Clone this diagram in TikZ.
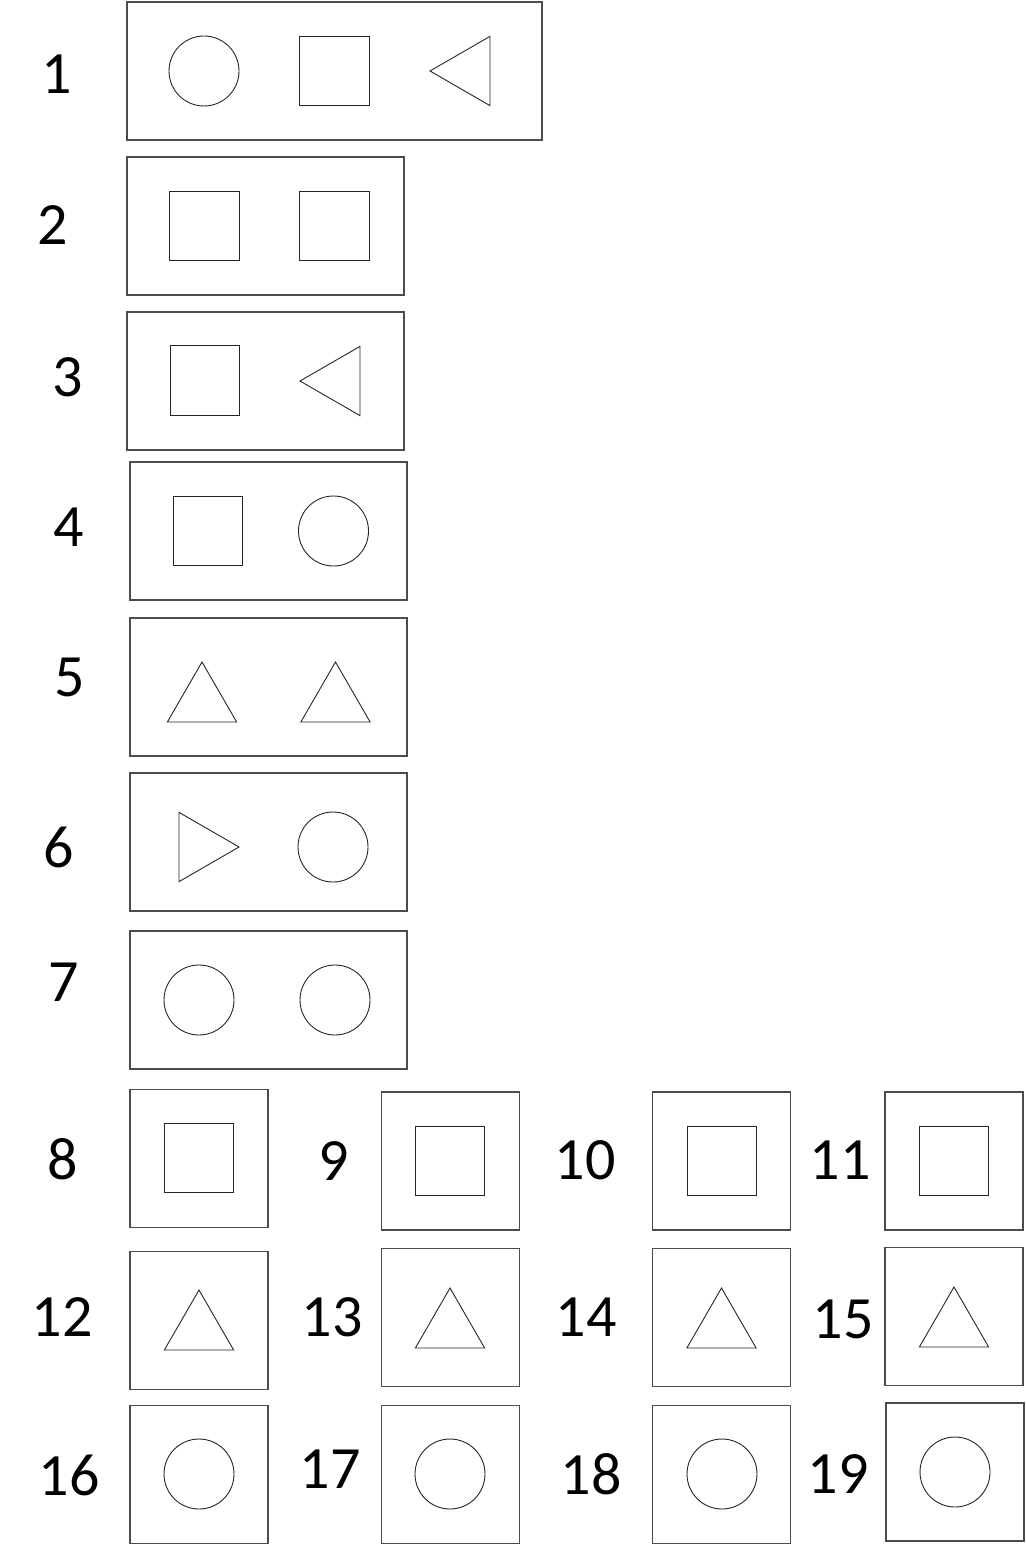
\documentclass[tikz,border=0pt]{standalone}
\usepackage{fontspec}
\setmainfont{Carlito}
\usetikzlibrary{shapes.geometric}

\begin{document}
\begin{tikzpicture}[x=0.5pt,y=-0.5pt,
		frame/.style = { draw, black!70, line width=0.6pt, minimum width=138.5pt, minimum height=69pt, inner sep=0pt },
		cell/.style = { draw, black!70, line width=0.6pt, minimum size=69pt, inner sep=0pt },
		circ/.style = { circle, draw, black!85, line width=0.45pt, minimum size=35pt, inner sep=0pt },
		sq/.style = { rectangle, draw, black!85, line width=0.45pt, minimum size=34.75pt, inner sep=0pt },
		tri/.style = { regular polygon, regular polygon sides=3, draw, black!85, line width=0.45pt, minimum size=40pt, inner sep=0pt },
		num/.style = { font = \fontsize{30}{36}\selectfont, inner sep=0pt },
		]
		\useasboundingbox (0,0) rectangle (1026,1546);
		
		% wide rows
		\node[frame, minimum width=207.5pt] (box1) at (334.5,71) {};
		\node[frame] (box2) at (265.5,226) {};
		\node[frame] (box3) at (265.5,381) {};
		\node[frame] (box4) at (268.5,531) {};
		\node[frame] (box5) at (268.5,687) {};
		\node[frame] (box6) at (268.5,842) {};
		\node[frame] (box7) at (268.5,1000) {};
		
		\node[num] (num1) at (57,74) {1};
		\node[num] (num2) at (53,225) {2};
		\node[num] (num3) at (68,377) {3};
		\node[num] (num4) at (69,527) {4};
		\node[num] (num5) at (70,677) {5};
		\node[num] (num6) at (59,847) {6};
		\node[num] (num7) at (64,982) {7};
		
		\node[circ] (C1a) at (204,71) {};
		\node[sq] (S1b) at (334.5,71) {};
		\node[tri, shape border rotate=90] (T1c) at (470,71) {};
		
		\node[sq] (S2a) at (204.5,226) {};
		\node[sq] (S2b) at (334.5,226) {};
		
		\node[sq] (S3a) at (205,380.5) {};
		\node[tri, shape border rotate=90] (T3b) at (340,381) {};
		
		\node[sq] (S4a) at (208,531) {};
		\node[circ] (C4b) at (333.5,531) {};
		
		\node[tri] (T5a) at (202,702) {};
		\node[tri] (T5b) at (335.5,702) {};
		
		\node[tri, shape border rotate=-90] (T6a) at (199,847) {};
		\node[circ] (C6b) at (333,847) {};
		
		\node[circ] (C7a) at (199,1000) {};
		\node[circ] (C7b) at (335,1000) {};
		
		% small cells
		\node[cell] (box8) at (199,1158.5) {};
		\node[cell] (box9) at (450.5,1161) {};
		\node[cell] (box10) at (721.5,1161) {};
		\node[cell] (box11) at (954,1161) {};
		
		\node[cell] (box12) at (199,1320.5) {};
		\node[cell] (box13) at (450.5,1317.5) {};
		\node[cell] (box14) at (721.5,1317.5) {};
		\node[cell] (box15) at (954,1316.5) {};
		
		\node[cell] (box16) at (199,1474.5) {};
		\node[cell] (box17) at (450.5,1474.5) {};
		\node[cell] (box18) at (721.5,1474.5) {};
		\node[cell] (box19) at (955,1472) {};
		
		\node[num] (num8) at (63,1159) {8};
		\node[num] (num9) at (334,1161) {9};
		\node[num] (num10) at (585,1160) {10};
		\node[num] (num11) at (840,1160) {11};
		\node[num] (num12) at (62,1317) {12};
		\node[num] (num13) at (332,1317) {13};
		\node[num] (num14) at (586,1317) {14};
		\node[num] (num15) at (843,1319) {15};
		\node[num] (num16) at (69,1475) {16};
		\node[num] (num17) at (330,1469) {17};
		\node[num] (num18) at (591,1474) {18};
		\node[num] (num19) at (838,1474) {19};
		
		\node[sq] (S8) at (199,1158) {};
		\node[sq] (S9) at (450,1161) {};
		\node[sq] (S10) at (722,1161) {};
		\node[sq] (S11) at (954,1161) {};
		
		\node[tri] (T12) at (199,1330) {};
		\node[tri] (T13) at (450,1328) {};
		\node[tri] (T14) at (721.5,1328) {};
		\node[tri] (T15) at (954,1327) {};
		
		\node[circ] (C16) at (199,1474) {};
		\node[circ] (C17) at (450,1474) {};
		\node[circ] (C18) at (722,1474) {};
		\node[circ] (C19) at (955,1472) {};
		
		\end{tikzpicture}
\end{document}
